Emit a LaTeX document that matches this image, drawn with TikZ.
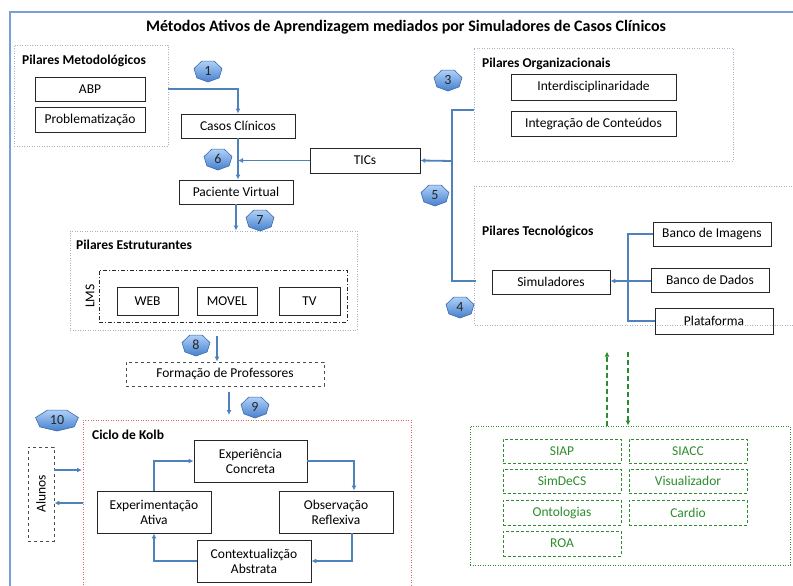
\documentclass[tikz,border=0pt]{standalone}
\usepackage{fontspec}
\setmainfont{Carlito}
\usetikzlibrary{arrows.meta}

\definecolor{linkblue}{RGB}{79,129,189}
\definecolor{frameblue}{RGB}{120,160,210}
\definecolor{framegray}{RGB}{165,178,200}
\definecolor{kolbred}{RGB}{225,95,95}
\definecolor{simgreen}{RGB}{45,140,45}
\definecolor{badgetop}{RGB}{175,208,248}
\definecolor{badgebottom}{RGB}{70,128,205}
\definecolor{badgeline}{RGB}{60,105,170}

% numbered badge: name, position, text, xscale
\newcommand\badge[4]{%
  \begin{scope}[shift={(#2)}, xscale=#4]
    \shade[top color=badgetop, bottom color=badgebottom, draw=badgeline, line width=.6pt]
      (90:11) \foreach \k in {1,...,6} { -- (90+\k*360/7:11) } -- cycle;
  \end{scope}
  \node[font=\fontsize{14}{16}\selectfont, text=black!85] (#1) at (#2) {#3};}

\begin{document}
\begin{tikzpicture}[x=1pt, y=-1pt, font=\fontsize{13.5}{15}\selectfont]
\tikzstyle{box} = [draw=black!85, line width=.9pt, minimum width=114, minimum height=24, inner sep=0, align=center]
\tikzstyle{dbox} = [box, dashed, draw=black!70]
\tikzstyle{gbox} = [box, densely dashed, draw=simgreen, text=simgreen, minimum width=118]
\tikzstyle{group} = [draw=framegray, line width=.9pt, dash pattern=on .9pt off 1.6pt, inner sep=0]
\tikzstyle{head} = [font=\fontsize{13.5}{15}\selectfont\bfseries, anchor=west, inner sep=0]
\tikzstyle{line} = [draw=linkblue, line width=1.8pt]
\tikzstyle{flow} = [line, -{Latex[length=5pt,width=5pt]}]
\tikzstyle{gflow} = [draw=simgreen, line width=2pt, dash pattern=on 5pt off 3pt, -{Latex[length=5pt,width=5pt]}]

\useasboundingbox (0,0) rectangle (793,586);

% outer frame
\draw[frameblue, line width=2.5pt] (10,590) -- (10,12) -- (797,12);
\node[font=\fontsize{16}{18}\selectfont\bfseries] (title) at (406,27) {Métodos Ativos de Aprendizagem mediados por Simuladores de Casos Clínicos};

% Pilares Metodologicos
\node[group, minimum width=154, minimum height=101] (metod) at (91,95.5) {};
\node[head] (metodhead) at (22,61) {Pilares Metodológicos};
\node[box, minimum width=110] (abp) at (90,89) {ABP};
\node[box, minimum width=110, minimum height=25] (probl) at (90,119.5) {Problematização};

% central column
\node[box] (casos) at (238,126) {Casos Clínicos};
\node[box, minimum width=110, minimum height=25] (tics) at (365,160.5) {TICs};
\node[box] (paciente) at (236,192) {Paciente Virtual};

% Pilares Estruturantes
\node[group, minimum width=287, minimum height=99] (estrut) at (213.5,280.5) {};
\node[head] (estruthead) at (76,245) {Pilares Estruturantes};
\node[draw=black!85, line width=.9pt, dash pattern=on 4pt off 2pt on 1pt off 2pt, minimum width=248, minimum height=52] (lms) at (223,296) {};
\node[rotate=90] (lmslabel) at (90,296) {LMS};
\node[box, minimum width=61, minimum height=28] (web) at (147.5,301) {WEB};
\node[box, minimum width=60, minimum height=28] (movel) at (227,301) {MOVEL};
\node[box, minimum width=61, minimum height=28] (tv) at (309.5,301) {TV};

\node[dbox, minimum width=198] (formacao) at (225,374) {Formação de Professores};

% Ciclo de Kolb
\draw[draw=kolbred, line width=.9pt, dash pattern=on .9pt off 1.6pt] (83,590) -- (83,420) -- (411,420) -- (411,590);
\node[head] (kolbhead) at (92,435) {Ciclo de Kolb};
\coordinate (kolbtop) at (229,420);
\coordinate (kolbin) at (82,470);
\coordinate (kolbout) at (83,503);
\node[dbox, minimum width=26, minimum height=94] (alunos) at (41,494) {};
\node[rotate=90] (alunoslabel) at (alunos) {Alunos};
\node[box, minimum width=113, minimum height=42] (expcon) at (250.5,461) {Experiência\\Concreta};
\node[box, minimum width=114, minimum height=42] (obsref) at (336,512) {Observação\\Reflexiva};
\node[box, minimum width=114, minimum height=42] (expat) at (154,512) {Experimentação\\Ativa};
\node[box, minimum width=114, minimum height=42] (contab) at (254,561) {Contextualizção\\Abstrata};

% Pilares Organizacionais
\node[group, minimum width=259, minimum height=113] (org) at (603.5,104.5) {};
\node[head] (orghead) at (482,64) {Pilares Organizacionais};
\node[box, minimum width=165, minimum height=26] (inter) at (593.5,87) {Interdisciplinaridade};
\node[box, minimum width=165, minimum height=25] (integ) at (593.5,123.5) {Integração de Conteúdos};

% Pilares Tecnologicos
\draw[group] (797,186) -- (474,186) -- (474,325) -- (797,325);
\coordinate (tecin) at (476,281);
\node[head] (techead) at (482,232) {Pilares Tecnológicos};
\node[box, minimum width=118] (simul) at (551,282) {Simuladores};
\node[box, minimum width=118] (bimg) at (712,234) {Banco de Imagens};
\node[box, minimum width=118] (bdados) at (710,280) {Banco de Dados};
\node[box, minimum width=118, minimum height=26] (plat) at (714,321) {Plataforma};
\coordinate (hub) at (628,281);
\coordinate (trunk) at (452,161);

% simuladores
\node[group, draw=simgreen, minimum width=320, minimum height=139] (green) at (630,495.5) {};
\node[gbox] (siap) at (562,451) {SIAP};
\node[gbox] (siacc) at (688,451) {SIACC};
\node[gbox] (simdecs) at (562,481) {SimDeCS};
\node[gbox] (visual) at (688,481) {Visualizador};
\node[gbox, minimum height=25] (onto) at (562,512.5) {Ontologias};
\node[gbox, minimum height=25] (cardio) at (688,512.5) {Cardio};
\node[gbox, minimum height=25] (roa) at (562,543.5) {ROA};

% connectors
\draw[flow] (metod.east |- abp) -| (casos.north);
\draw[flow] (casos.south) -- (casos.south |- paciente.north);
\draw[flow] (tics.west) -- (casos.south |- tics.west);
\draw[flow] (paciente.south) -- (paciente.south |- estrut.north);
\draw[flow] ([xshift=3.5pt,yshift=-6pt]estrut.south) -- ([xshift=3.5pt]estrut.south |- formacao.north);
\draw[flow] ([xshift=4pt,yshift=-6pt]formacao.south) -- ([yshift=5pt]kolbtop);
\draw[line] (org.west |- 0,110) -| (trunk) |- (tecin);
\draw[flow] (trunk) -- (tics.east);
\draw[line] (bimg.west) -| (hub);
\draw[line] (plat.west) -| (hub);
\draw[flow] (bdados.west |- hub) -- (simul.east |- hub);
\draw[flow] (alunos.east |- kolbin) -- (kolbin);
\draw[flow] (kolbout) -- (alunos.east |- kolbout);
\draw[flow] (expat.north) |- (expcon.west);
\draw[flow] (expcon.east) -| ([xshift=18pt]obsref.north);
\draw[flow] ([xshift=16pt]obsref.south) |- (contab.east);
\draw[flow] (contab.west) -| (expat.south);
\draw[gflow] ([xshift=-23pt]green.north) -- ([xshift=-23pt,yshift=74pt]green.north);
\draw[gflow] ([xshift=-2pt,yshift=74pt]green.north) -- ([xshift=-2pt]green.north);

% badges
\badge{b1}{208,71}{1}{1.3}
\badge{b3}{448,80}{3}{1.3}
\badge{b4}{460,307}{4}{1.3}
\badge{b5}{435,195}{5}{1.3}
\badge{b6}{218,159}{6}{1.3}
\badge{b7}{260,220}{7}{1.3}
\badge{b8}{196,345}{8}{1.3}
\badge{b9}{255,407}{9}{1.3}
\badge{b10}{57,420}{10}{2.0}
\end{tikzpicture}
\end{document}
